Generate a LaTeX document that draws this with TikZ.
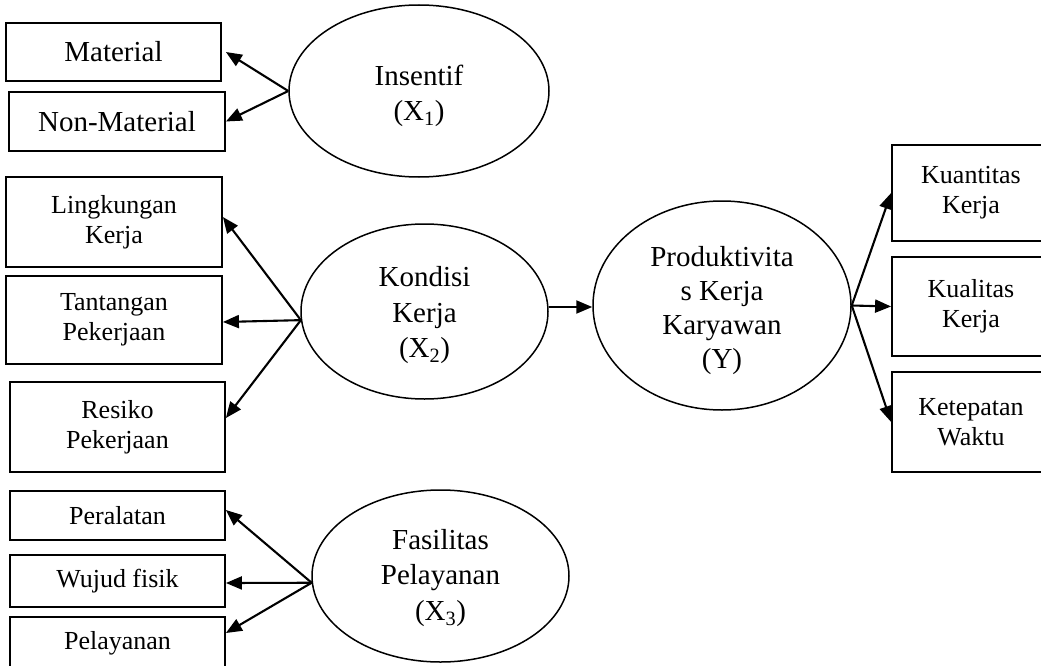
\documentclass[tikz,border=0pt]{standalone}
\usepackage{fontspec}
\setmainfont{Liberation Serif}
\usetikzlibrary{shapes.geometric,arrows.meta}
\tikzset{
  box/.style={draw, line width=1.8pt, rectangle, inner sep=0pt, align=center, font=\fontsize{26}{30}\selectfont},
  bigbox/.style={box, font=\fontsize{29}{34}\selectfont},
  ell/.style={draw, line width=1.5pt, ellipse, inner sep=0pt},
  elltext/.style={align=center, font=\fontsize{29}{35.5}\selectfont},
  arr/.style={line width=2.1pt, -{Triangle[length=16pt,width=13pt]}}
}
\begin{document}
\begin{tikzpicture}[x=1pt,y=-1pt]
\useasboundingbox (0,0) rectangle (1041,666);
\clip (0,0) rectangle (1041,666);

% left boxes
\node[bigbox, minimum width=215pt, minimum height=58pt] (mat) at (113.5,52) {Material};
\node[bigbox, minimum width=216pt, minimum height=59pt] (nonmat) at (117,121.5) {Non-Material};
\node[box, minimum width=216pt, minimum height=90pt] (ling) at (114,222) {Lingkungan\\Kerja};
\node[box, minimum width=216pt, minimum height=88pt] (tant) at (114,320) {Tantangan\\Pekerjaan};
\node[box, minimum width=215pt, minimum height=90pt] (res) at (117.5,427) {Resiko\\Pekerjaan};
\node[box, minimum width=215pt, minimum height=49pt] (per) at (117.5,515.5) {Peralatan};
\node[box, minimum width=215pt, minimum height=52pt] (wuj) at (117.5,581) {Wujud fisik};
\node[box, minimum width=215pt, minimum height=52pt] (pel) at (117.5,643) {Pelayanan};

% right boxes
\node[box, minimum width=158pt, minimum height=96pt] (kuan) at (971,193) {Kuantitas\\Kerja};
\node[box, minimum width=158pt, minimum height=99pt] (kual) at (971,306.5) {Kualitas\\Kerja};
\node[box, minimum width=158pt, minimum height=100pt] (ket) at (971,422) {Ketepatan\\Waktu};

% ellipses
\node[ell, minimum width=260pt, minimum height=172pt,
  label={[elltext, yshift=-5pt]center:Insentif\\(X\textsubscript{1})}] (ins) at (419,91) {};
\node[ell, minimum width=247pt, minimum height=175pt,
  label={[elltext, yshift=-4pt]center:Kondisi\\Kerja\\(X\textsubscript{2})}] (kon) at (424.5,311.5) {};
\node[ell, minimum width=258pt, minimum height=209pt,
  label={[elltext, yshift=-5pt, font=\fontsize{29}{34}\selectfont]center:Produktivita\\s Kerja\\Karyawan\\(Y)}] (prod) at (722,305.5) {};
\node[ell, minimum width=257pt, minimum height=172pt,
  label={[elltext, yshift=-2pt]center:Fasilitas\\Pelayanan\\(X\textsubscript{3})}] (fas) at (440.5,576) {};

% arrows
\draw[arr] (ins.west) -- ([xshift=4pt]mat.east);
\draw[arr] (ins.west) -- (nonmat.east);

\draw[arr] (kon.184) -- ([yshift=5pt]ling.east);
\draw[arr] (kon.184) -- ([yshift=-2pt]tant.east);
\draw[arr] (kon.184) -- ([yshift=9pt]res.east);

\draw[arr] ([yshift=-1.5pt]kon.east |- prod.west) -- ([yshift=-1.5pt]prod.west);

\draw[arr] (prod.east) -- (kuan.west);
\draw[arr] (prod.east) -- (kual.west);
\draw[arr] (prod.east) -- (ket.west);

\draw[arr] (fas.183) -- ([yshift=5.5pt]per.east);
\draw[arr] (fas.183) -- ([yshift=-2pt]wuj.east);
\draw[arr] (fas.183) -- ([yshift=10pt]pel.east);
\end{tikzpicture}
\end{document}
